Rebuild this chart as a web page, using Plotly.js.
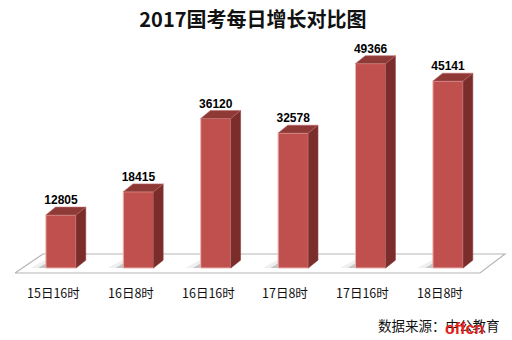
<!DOCTYPE html>
<html><head><meta charset="utf-8">
<script src="https://cdn.plot.ly/plotly-3.0.1.min.js"></script>
<style>html,body{margin:0;padding:0;background:#fff}#chart{width:512px;height:340px}</style>
</head><body><div id="chart"></div>
<script>
const categories = ["15日16时","16日8时","16日16时","17日8时","17日16时","18日8时"];
const values = [12805, 18415, 36120, 32578, 49366, 45141];
const titleText = "2017国考每日增长对比图";
const sourceText = "数据来源：中公教育";
const logoText = "offcn";

const idx = categories.map((_, i) => i);
const barW = 0.39, hw = barW / 2;
const depthX = 0.125, depthY = 1900;

// side and top faces built from the data values
const sideX = [], sideY = [], topX = [], topY = [];
idx.forEach((i) => {
  const v = values[i];
  sideX.push(i + hw, i + hw + depthX, i + hw + depthX, i + hw, i + hw, null);
  sideY.push(0, depthY, v + depthY, v, 0, null);
  topX.push(i - hw, i + hw, i + hw + depthX, i - hw + depthX, i - hw, null);
  topY.push(v, v, v + depthY, v + depthY, v, null);
});

const traces = [
  { type: 'bar', x: idx, y: values, width: barW,
    marker: { color: '#C0504D', line: { color: '#EBB4B2', width: 1 } },
    hoverinfo: 'skip' },
  { type: 'scatter', mode: 'lines', x: sideX, y: sideY, fill: 'toself',
    fillcolor: '#7A2D2B', line: { color: '#8E3B39', width: 0.6 }, hoverinfo: 'skip' },
  { type: 'scatter', mode: 'lines', x: topX, y: topY, fill: 'toself',
    fillcolor: '#8F3936', line: { color: '#B96A68', width: 0.6 }, hoverinfo: 'skip' },
  { type: 'scatter', mode: 'text', x: idx, y: values.map(v => v + depthY),
    text: values.map(String), textposition: 'top center',
    textfont: { family: 'Liberation Sans, Arial, sans-serif', size: 12, color: '#000', weight: 'bold' },
    hoverinfo: 'skip' }
];

const n = categories.length;
const floorPath = 'M -0.594,-1210 L ' + (n - 0.587) + ',-1210 L ' + (n - 0.264) + ',3380 L -0.233,3380 Z';

// soft shadows at the bar bases
const shapes = [{ type: 'path', xref: 'x', yref: 'y', path: floorPath, layer: 'below',
  fillcolor: '#FFFFFF', line: { color: '#B5B5B5', width: 1.2 } }];
idx.forEach((i) => {
  const x0 = i - hw;
  shapes.push({ type: 'path', xref: 'x', yref: 'y', layer: 'below',
    path: 'M ' + x0 + ',0 L ' + (x0 - 0.1) + ',0 L ' + (x0 + depthX - 0.06) + ',' + depthY + ' L ' + (x0 + depthX) + ',' + depthY + ' Z',
    fillcolor: 'rgba(90,90,90,0.35)', line: { width: 0 } });
  shapes.push({ type: 'path', xref: 'x', yref: 'y', layer: 'below',
    path: 'M ' + (x0 - 0.1) + ',0 L ' + (x0 - 0.2) + ',0 L ' + (x0 + depthX - 0.14) + ',' + depthY + ' L ' + (x0 + depthX - 0.06) + ',' + depthY + ' Z',
    fillcolor: 'rgba(150,150,150,0.15)', line: { width: 0 } });
});

const annotations = idx.map((i) => ({
  x: i - 0.1, y: -5800, xref: 'x', yref: 'y', text: categories[i], showarrow: false,
  font: { family: 'Noto Sans CJK SC, sans-serif', size: 12.5, color: '#111' },
  xanchor: 'center', yanchor: 'middle'
}));
annotations.push({
  x: 0.9898, y: -0.094, xref: 'paper', yref: 'paper', text: sourceText, showarrow: false,
  font: { family: 'Noto Sans CJK SC, sans-serif', size: 13.5, color: '#111' },
  xanchor: 'right', yanchor: 'middle'
});
annotations.push({
  x: 0.9146, y: -0.108, xref: 'paper', yref: 'paper', text: logoText, showarrow: false,
  font: { family: 'Liberation Sans, Arial, sans-serif', size: 16, color: '#E3201B', weight: 'bold' },
  xanchor: 'center', yanchor: 'middle'
});

const layout = {
  width: 512, height: 340,
  margin: { l: 15, r: 5, t: 35, b: 40 },
  paper_bgcolor: '#fff', plot_bgcolor: '#fff',
  showlegend: false,
  title: { text: titleText, x: 0.494, xref: 'container', y: 0.941, yref: 'container',
    xanchor: 'center', yanchor: 'middle',
    font: { family: 'Noto Sans CJK SC, sans-serif', size: 20, color: '#111', weight: 'bold' } },
  xaxis: { range: [-0.594, 5.762], visible: false, fixedrange: true },
  yaxis: { range: [-7728, 56270], visible: false, fixedrange: true },
  shapes: shapes,
  annotations: annotations
};

Plotly.newPlot('chart', traces, layout, { staticPlot: true, displayModeBar: false });
</script></body></html>
